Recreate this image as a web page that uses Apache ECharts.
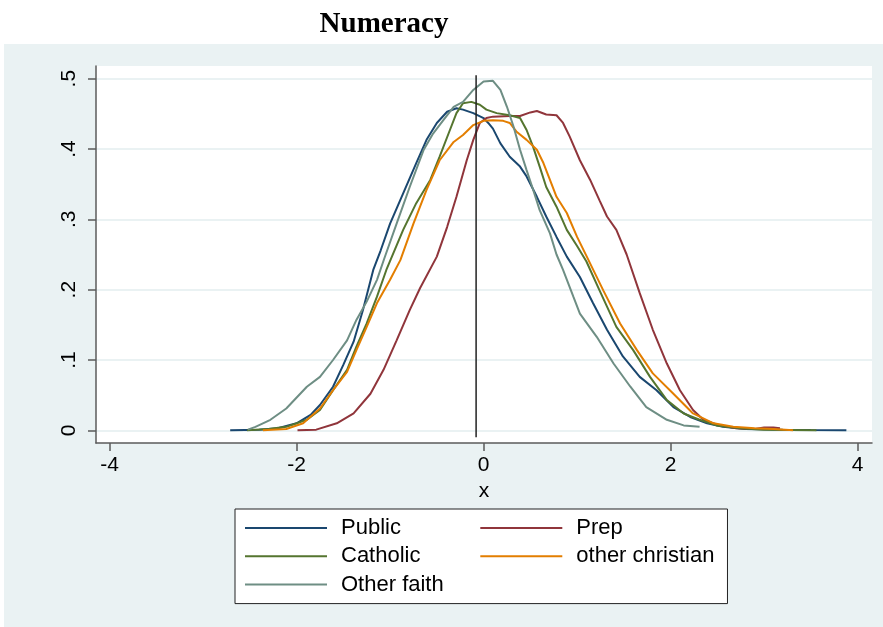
<!DOCTYPE html>
<html>
<head>
<meta charset="utf-8">
<script src="https://cdn.jsdelivr.net/npm/echarts@6/dist/echarts.min.js"></script>
<style>
html, body { margin: 0; padding: 0; background: #fff; }
#chart { width: 883px; height: 627px; }
</style>
</head>
<body>
<div id="chart"></div>
<script>
// Kernel density estimates of the numeracy score, by school type
const seriesNames = ['Public', 'Prep', 'Catholic', 'other christian', 'Other faith'];
const seriesColors = ['#1a476f', '#90353b', '#55752f', '#e37e00', '#6e8e84'];

const publicDensity = [
  [-2.71, 0], [-2.40, 0.001], [-2.20, 0.003], [-2.00, 0.010], [-1.85, 0.022], [-1.75, 0.036],
  [-1.61, 0.062], [-1.50, 0.093], [-1.39, 0.126], [-1.29, 0.171], [-1.18, 0.228], [-1.10, 0.256],
  [-1.00, 0.294], [-0.86, 0.337], [-0.72, 0.380], [-0.61, 0.413], [-0.50, 0.437], [-0.39, 0.453],
  [-0.29, 0.458], [-0.22, 0.456], [-0.11, 0.451], [0.00, 0.444], [0.05, 0.437], [0.10, 0.429],
  [0.18, 0.408], [0.28, 0.389], [0.39, 0.375], [0.46, 0.361], [0.57, 0.332], [0.67, 0.304],
  [0.78, 0.275], [0.89, 0.247], [1.03, 0.218], [1.17, 0.181], [1.32, 0.143], [1.49, 0.105],
  [1.67, 0.076], [1.85, 0.057], [2.03, 0.033], [2.21, 0.019], [2.39, 0.010], [2.56, 0.005],
  [2.80, 0.002], [3.20, 0.001], [3.50, 0.0005], [3.88, 0]
];

const prepDensity = [
  [-1.99, 0], [-1.79, 0.001], [-1.57, 0.010], [-1.39, 0.024], [-1.21, 0.052], [-1.07, 0.086],
  [-0.93, 0.128], [-0.79, 0.171], [-0.68, 0.202], [-0.50, 0.247], [-0.39, 0.289], [-0.29, 0.332],
  [-0.18, 0.384], [-0.11, 0.413], [-0.04, 0.437], [0.03, 0.444], [0.10, 0.446], [0.28, 0.447],
  [0.39, 0.447], [0.50, 0.452], [0.57, 0.454], [0.67, 0.449], [0.78, 0.448], [0.85, 0.437],
  [0.92, 0.418], [1.03, 0.384], [1.14, 0.356], [1.24, 0.327], [1.32, 0.304], [1.42, 0.285],
  [1.53, 0.250], [1.67, 0.195], [1.81, 0.143], [1.96, 0.095], [2.10, 0.057], [2.24, 0.029],
  [2.35, 0.015], [2.50, 0.008], [2.70, 0.003], [2.90, 0.002], [3.00, 0.004], [3.10, 0.004],
  [3.17, 0.003]
];

const catholicDensity = [
  [-2.53, 0], [-2.30, 0.002], [-2.11, 0.005], [-1.89, 0.015], [-1.75, 0.029], [-1.61, 0.057],
  [-1.46, 0.086], [-1.36, 0.119], [-1.25, 0.152], [-1.14, 0.190], [-1.04, 0.228], [-0.86, 0.285],
  [-0.72, 0.323], [-0.57, 0.356], [-0.47, 0.389], [-0.36, 0.427], [-0.29, 0.451], [-0.22, 0.465],
  [-0.13, 0.467], [-0.04, 0.463], [0.03, 0.456], [0.14, 0.451], [0.28, 0.448], [0.39, 0.444],
  [0.46, 0.427], [0.53, 0.403], [0.60, 0.375], [0.67, 0.346], [0.78, 0.318], [0.89, 0.285],
  [1.00, 0.262], [1.10, 0.240], [1.24, 0.199], [1.42, 0.147], [1.60, 0.114], [1.78, 0.076],
  [1.96, 0.043], [2.14, 0.024], [2.31, 0.015], [2.49, 0.007], [2.74, 0.003], [3.00, 0.001],
  [3.30, 0.0005], [3.56, 0]
];

const otherChristianDensity = [
  [-2.36, 0], [-2.11, 0.002], [-1.93, 0.010], [-1.75, 0.031], [-1.61, 0.057], [-1.46, 0.083],
  [-1.36, 0.114], [-1.25, 0.147], [-1.14, 0.181], [-1.00, 0.214], [-0.89, 0.242], [-0.75, 0.294],
  [-0.61, 0.342], [-0.47, 0.384], [-0.32, 0.410], [-0.22, 0.420], [-0.11, 0.434], [0.00, 0.440],
  [0.10, 0.441], [0.21, 0.440], [0.28, 0.437], [0.35, 0.425], [0.46, 0.413], [0.57, 0.399],
  [0.64, 0.380], [0.71, 0.356], [0.78, 0.332], [0.89, 0.309], [1.00, 0.275], [1.10, 0.248],
  [1.28, 0.199], [1.46, 0.152], [1.64, 0.114], [1.81, 0.081], [2.03, 0.052], [2.24, 0.024],
  [2.46, 0.010], [2.67, 0.005], [2.90, 0.003], [3.10, 0.002], [3.31, 0]
];

const otherFaithDensity = [
  [-2.52, 0.001], [-2.44, 0.005], [-2.28, 0.015], [-2.11, 0.031], [-1.89, 0.062], [-1.75, 0.076],
  [-1.61, 0.100], [-1.46, 0.128], [-1.36, 0.157], [-1.25, 0.183], [-1.14, 0.214], [-1.06, 0.245],
  [-0.93, 0.294], [-0.79, 0.346], [-0.64, 0.399], [-0.54, 0.422], [-0.43, 0.441], [-0.32, 0.460],
  [-0.22, 0.467], [-0.11, 0.484], [0.00, 0.496], [0.10, 0.497], [0.18, 0.484], [0.25, 0.460],
  [0.32, 0.432], [0.39, 0.399], [0.46, 0.370], [0.53, 0.342], [0.60, 0.313], [0.71, 0.280],
  [0.78, 0.250], [0.85, 0.228], [0.96, 0.190], [1.03, 0.166], [1.21, 0.133], [1.39, 0.095],
  [1.57, 0.062], [1.74, 0.033], [1.96, 0.015], [2.14, 0.007], [2.31, 0.005]
];

// Reference line at the overall mean
const meanLineX = -0.08;
const meanLineY = [-0.01, 0.505];

const xTickValues = [-4, -2, 0, 2, 4];
const xTickLabels = ['-4', '-2', '0', '2', '4'];
const yTickValues = [0, 0.1, 0.2, 0.3, 0.4, 0.5];
const yTickLabels = ['0', '.1', '.2', '.3', '.4', '.5'];

const densities = [publicDensity, prepDensity, catholicDensity, otherChristianDensity, otherFaithDensity];

const sans = '"Liberation Sans", Arial, Helvetica, sans-serif';
const axisGray = '#5b5b5b';
const panelTint = '#EAF2F3';

function tickLabel(values, labels) {
  return function (v) {
    const i = values.findIndex(t => Math.abs(t - v) < 1e-9);
    return i >= 0 ? labels[i] : '';
  };
}

const chart = echarts.init(document.getElementById('chart'));

const series = densities.map((d, i) => ({
  type: 'line',
  name: seriesNames[i],
  data: d,
  symbol: 'none',
  showSymbol: false,
  lineStyle: { color: seriesColors[i], width: 2 },
  itemStyle: { color: seriesColors[i] },
  emphasis: { disabled: true },
  z: 3
}));

series.push({
  type: 'line',
  name: 'mean',
  data: [[meanLineX, meanLineY[0]], [meanLineX, meanLineY[1]]],
  symbol: 'none',
  showSymbol: false,
  lineStyle: { color: '#222', width: 1.5 },
  emphasis: { disabled: true },
  z: 4
});

chart.setOption({
  animation: false,
  backgroundColor: panelTint,
  graphic: [
    { type: 'rect', shape: { x: 0, y: 0, width: 883, height: 44 }, style: { fill: '#fff' }, silent: true },
    { type: 'rect', shape: { x: 0, y: 0, width: 4, height: 627 }, style: { fill: '#fff' }, silent: true },
    {
      type: 'text', x: 384, y: 25, silent: true,
      style: {
        text: 'Numeracy', fill: '#000', align: 'center', verticalAlign: 'middle',
        font: 'bold 29px "Liberation Serif", "Times New Roman", serif'
      }
    }
  ],
  grid: {
    left: 96, right: 11, top: 66, bottom: 184,
    show: true, backgroundColor: '#fff', borderWidth: 0
  },
  xAxis: {
    type: 'value',
    min: -4.145, max: 4.154,
    name: 'x', nameLocation: 'middle', nameGap: 35,
    nameTextStyle: { fontSize: 21, color: '#000', fontFamily: sans },
    axisLine: { show: true, onZero: false, lineStyle: { color: axisGray, width: 1.5 } },
    axisTick: { show: true, length: 8, customValues: xTickValues, lineStyle: { color: axisGray, width: 1.5 } },
    axisLabel: {
      customValues: xTickValues, formatter: tickLabel(xTickValues, xTickLabels),
      margin: 12, fontSize: 21, color: '#000', fontFamily: sans
    },
    splitLine: { show: false }
  },
  yAxis: {
    type: 'value',
    min: -0.018, max: 0.518,
    axisLine: { show: true, onZero: false, lineStyle: { color: axisGray, width: 1.5 } },
    axisTick: { show: true, length: 8, customValues: yTickValues, lineStyle: { color: axisGray, width: 1.5 } },
    axisLabel: {
      customValues: yTickValues, formatter: tickLabel(yTickValues, yTickLabels),
      rotate: 90, margin: 16, fontSize: 21, color: '#000', fontFamily: sans
    },
    splitLine: { show: true, lineStyle: { color: panelTint, width: 2 } }
  },
  legend: {
    data: seriesNames,
    left: 235, top: 509, width: 480,
    orient: 'horizontal',
    icon: 'rect',
    padding: [8, 13, 8, 10],
    itemGap: 6.3, itemWidth: 82, itemHeight: 2,
    backgroundColor: '#fff', borderColor: '#222', borderWidth: 1, borderRadius: 0,
    selectedMode: false,
    textStyle: {
      fontSize: 22, color: '#000', fontFamily: sans,
      width: 133, lineHeight: 22, padding: [0, 0, 0, 9]
    }
  },
  series: series
});
</script>
</body>
</html>
